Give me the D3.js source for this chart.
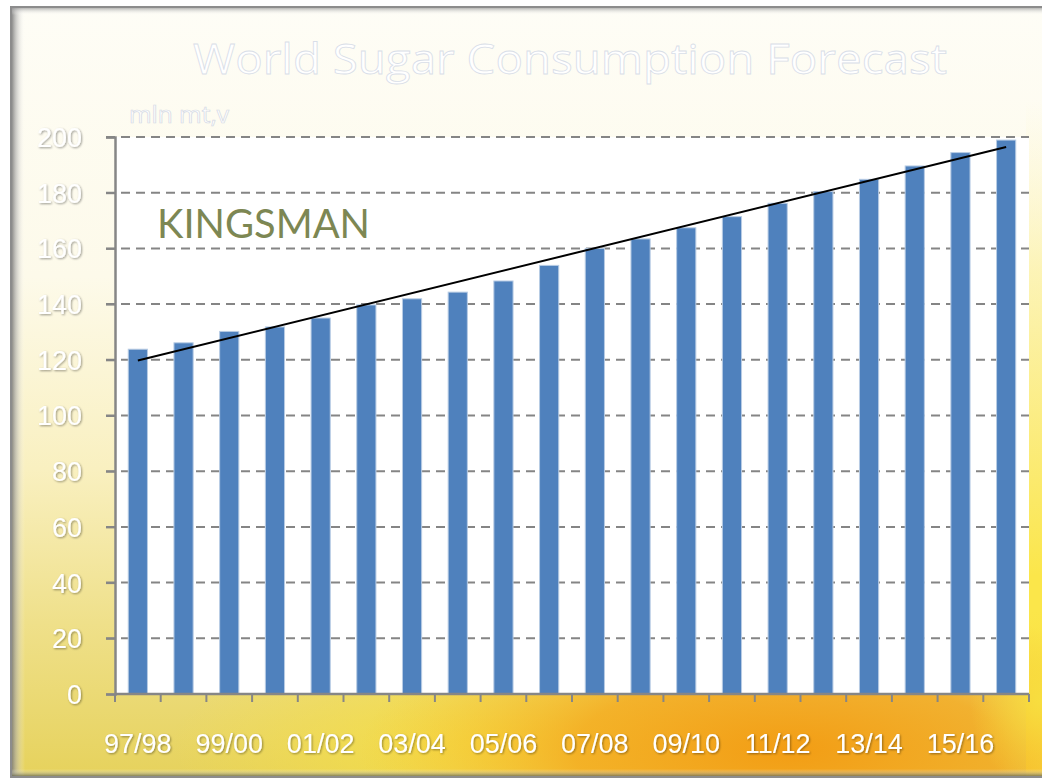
<!DOCTYPE html>
<html>
<head>
<meta charset="utf-8">
<script src="https://cdn.jsdelivr.net/npm/d3@7"></script>
<style>
  html, body { margin: 0; padding: 0; background: #ffffff; }
  svg { display: block; }
</style>
</head>
<body>
<svg id="chart" width="1042" height="778"></svg>
<script>
// ---- data ----
const categories = ["97/98","98/99","99/00","00/01","01/02","02/03","03/04","04/05","05/06","06/07",
                    "07/08","08/09","09/10","10/11","11/12","12/13","13/14","14/15","15/16","16/17"];
const consumption = [123.8, 126.1, 130.2, 131.8, 135.0, 139.7, 141.9, 144.3, 148.3, 153.9,
                     160.0, 163.4, 167.4, 171.4, 176.2, 180.4, 184.8, 189.6, 194.4, 198.9];
const yTicks = [0, 20, 40, 60, 80, 100, 120, 140, 160, 180, 200];
const xLabelCats = ["97/98","99/00","01/02","03/04","05/06","07/08","09/10","11/12","13/14","15/16"];
const titleText = "World Sugar Consumption Forecast";
const unitText = "mln mt,v";
const logoText = "KINGSMAN";

// ---- layout ----
const W = 1042, H = 778;
const plot = { left: 115, right: 1029, top: 137, bottom: 694 };

const svg = d3.select("#chart");
const defs = svg.append("defs");

// background gradients
const gBase = defs.append("linearGradient").attr("id", "bgBase")
  .attr("x1", 0).attr("y1", 0).attr("x2", 0).attr("y2", 1);
[[0, "#fefdf6"], [0.35, "#fdfaea"], [0.6, "#f9f0c0"], [0.8, "#efe08a"], [1, "#e6d25c"]]
  .forEach(([o, c]) => gBase.append("stop").attr("offset", o).attr("stop-color", c));

const gOrange = defs.append("radialGradient").attr("id", "bgOrange")
  .attr("cx", 0.5).attr("cy", 0.5).attr("r", 0.5);
[[0, "#f39a10", 0.95], [0.5, "#f4a41a", 0.75], [1, "#f6c030", 0]]
  .forEach(([o, c, a]) => gOrange.append("stop").attr("offset", o).attr("stop-color", c).attr("stop-opacity", a));

const gYellow = defs.append("radialGradient").attr("id", "bgYellow")
  .attr("cx", 0.5).attr("cy", 0.5).attr("r", 0.5);
[[0, "#f8e040", 0.9], [1, "#f8e040", 0]]
  .forEach(([o, c, a]) => gYellow.append("stop").attr("offset", o).attr("stop-color", c).attr("stop-opacity", a));

const gRight = defs.append("linearGradient").attr("id", "bgRight")
  .attr("x1", 0).attr("y1", 0).attr("x2", 0).attr("y2", 1);
[[0, "#fdf6c8", 0], [0.25, "#fcf1a0", 0.7], [0.7, "#fbe64a", 1], [1, "#fbe64a", 1]]
  .forEach(([o, c, a]) => gRight.append("stop").attr("offset", o).attr("stop-color", c).attr("stop-opacity", a));

const gLeftShadow = defs.append("linearGradient").attr("id", "leftShadow")
  .attr("x1", 0).attr("y1", 0).attr("x2", 1).attr("y2", 0);
[[0, "#6e6e6e", 0.9], [0.35, "#a8a8a8", 0.6], [1, "#ffffff", 0]]
  .forEach(([o, c, a]) => gLeftShadow.append("stop").attr("offset", o).attr("stop-color", c).attr("stop-opacity", a));
const gTopShadow = defs.append("linearGradient").attr("id", "topShadow")
  .attr("x1", 0).attr("y1", 0).attr("x2", 0).attr("y2", 1);
[[0, "#8a8a8a", 0.8], [1, "#ffffff", 0]]
  .forEach(([o, c, a]) => gTopShadow.append("stop").attr("offset", o).attr("stop-color", c).attr("stop-opacity", a));
const gBotShadow = defs.append("linearGradient").attr("id", "botShadow")
  .attr("x1", 0).attr("y1", 1).attr("x2", 0).attr("y2", 0);
[[0, "#5a5a3a", 0.9], [1, "#ffffff", 0]]
  .forEach(([o, c, a]) => gBotShadow.append("stop").attr("offset", o).attr("stop-color", c).attr("stop-opacity", a));

const txtShadow = defs.append("filter").attr("id", "txtShadow").attr("x", "-10%").attr("y", "-20%").attr("width", "120%").attr("height", "140%");
txtShadow.append("feGaussianBlur").attr("in", "SourceAlpha").attr("stdDeviation", 0.8).attr("result", "b");
txtShadow.append("feOffset").attr("in", "b").attr("dx", 0.5).attr("dy", 0.8).attr("result", "o");
txtShadow.append("feComponentTransfer").attr("in", "o").attr("result", "o2")
  .append("feFuncA").attr("type", "linear").attr("slope", 0.4);
const mrg = txtShadow.append("feMerge");
mrg.append("feMergeNode").attr("in", "o2");
mrg.append("feMergeNode").attr("in", "SourceGraphic");

// frame + background
const frame = { x: 11, y: 7, w: 1040, h: 770 };
const bg = svg.append("g");
bg.append("rect").attr("x", frame.x).attr("y", frame.y).attr("width", frame.w).attr("height", frame.h)
  .attr("fill", "url(#bgBase)");
bg.append("rect").attr("x", 1026).attr("y", 100).attr("width", 30).attr("height", 680)
  .attr("fill", "url(#bgRight)");
bg.append("ellipse").attr("cx", 500).attr("cy", 745).attr("rx", 330).attr("ry", 110)
  .attr("fill", "url(#bgYellow)");
bg.append("ellipse").attr("cx", 790).attr("cy", 750).attr("rx", 430).attr("ry", 150)
  .attr("fill", "url(#bgOrange)");
bg.append("ellipse").attr("cx", 1040).attr("cy", 700).attr("rx", 70).attr("ry", 90)
  .attr("fill", "url(#bgYellow)");
// frame shadows
bg.append("rect").attr("x", frame.x).attr("y", frame.y).attr("width", 14).attr("height", frame.h)
  .attr("fill", "url(#leftShadow)");
bg.append("rect").attr("x", frame.x).attr("y", frame.y).attr("width", frame.w).attr("height", 8)
  .attr("fill", "url(#topShadow)");
bg.append("rect").attr("x", frame.x).attr("y", frame.y + frame.h - 8).attr("width", frame.w).attr("height", 8)
  .attr("fill", "url(#botShadow)");
bg.append("rect").attr("x", frame.x).attr("y", frame.y).attr("width", frame.w).attr("height", frame.h)
  .attr("fill", "none").attr("stroke", "#8c8c8c").attr("stroke-width", 2);

// ---- scales ----
const x = d3.scaleBand().domain(categories).range([plot.left, plot.right])
  .paddingInner(0.58).paddingOuter(0.29);
const y = d3.scaleLinear().domain([0, 200]).range([plot.bottom, plot.top]);

// plot area
svg.append("rect").attr("x", plot.left).attr("y", plot.top)
  .attr("width", plot.right - plot.left).attr("height", plot.bottom - plot.top)
  .attr("fill", "#ffffff");

// gridlines
const grid = svg.append("g");
grid.selectAll("line").data(yTicks.filter(d => d > 0)).join("line")
  .attr("x1", plot.left - 9).attr("x2", plot.right)
  .attr("y1", d => y(d)).attr("y2", d => y(d))
  .attr("stroke", "#858585").attr("stroke-width", 2).attr("stroke-dasharray", "9,6");

// bars
svg.append("g").selectAll("rect").data(categories).join("rect")
  .attr("x", d => x(d))
  .attr("y", (d, i) => y(consumption[i]))
  .attr("width", x.bandwidth())
  .attr("height", (d, i) => y(0) - y(consumption[i]))
  .attr("fill", "#4f81bd")
  .attr("stroke", "#b8cce4").attr("stroke-width", 1);

// trendline (linear least squares over bars)
const n = consumption.length;
const mx = d3.mean(d3.range(n)), my = d3.mean(consumption);
const slope = d3.sum(d3.range(n), i => (i - mx) * (consumption[i] - my)) / d3.sum(d3.range(n), i => (i - mx) ** 2);
const icpt = my - slope * mx;
const trend = [0, n - 1].map(i => ({ cat: categories[i], v: icpt + slope * i }));
svg.append("path").datum(trend)
  .attr("d", d3.line().x(d => x(d.cat) + x.bandwidth() / 2).y(d => y(d.v)))
  .attr("fill", "none").attr("stroke", "#000000").attr("stroke-width", 2);

// y axis
const yAxis = svg.append("g").attr("transform", `translate(${plot.left},0)`)
  .call(d3.axisLeft(y).tickValues(yTicks).tickSize(9).tickPadding(24).tickFormat(d3.format("d")));
yAxis.select(".domain").attr("stroke", "#868686").attr("stroke-width", 2.5);
yAxis.selectAll(".tick line").attr("stroke", "#868686").attr("stroke-width", 2);
yAxis.selectAll(".tick text")
  .attr("fill", "#ffffff").attr("font-family", "'Liberation Sans', Arial, sans-serif")
  .attr("font-size", 27).attr("dy", "0.35em").attr("filter", "url(#txtShadow)");

// x axis: ticks at category boundaries
const boundaries = categories.map(c => x(c) - x.step() * x.paddingInner() / 2).concat([plot.right]);
const xAxisG = svg.append("g");
xAxisG.append("line").attr("x1", plot.left).attr("x2", plot.right)
  .attr("y1", plot.bottom).attr("y2", plot.bottom)
  .attr("stroke", "#868686").attr("stroke-width", 2.5);
xAxisG.selectAll("line.tk").data(boundaries).join("line").attr("class", "tk")
  .attr("x1", d => d).attr("x2", d => d)
  .attr("y1", plot.bottom).attr("y2", plot.bottom + 8)
  .attr("stroke", "#868686").attr("stroke-width", 2);
xAxisG.selectAll("text").data(xLabelCats).join("text")
  .attr("x", d => x(d) + x.bandwidth() / 2)
  .attr("y", 753)
  .attr("text-anchor", "middle")
  .attr("fill", "#ffffff").attr("font-family", "'Liberation Sans', Arial, sans-serif")
  .attr("font-size", 27).attr("filter", "url(#txtShadow)")
  .text(d => d);

// title
svg.append("text").attr("x", 570).attr("y", 74).attr("text-anchor", "middle")
  .attr("font-family", "'Open Sans', 'Noto Sans', sans-serif").attr("font-size", 42)
  .attr("fill", "#ffffff").attr("stroke", "#d9dee8").attr("stroke-width", 0.8)
  .attr("textLength", 754).attr("lengthAdjust", "spacingAndGlyphs")
  .text(titleText);

// unit label
svg.append("text").attr("x", 129).attr("y", 123)
  .attr("font-family", "'Open Sans', 'Noto Sans', sans-serif").attr("font-size", 23)
  .attr("fill", "#ffffff").attr("stroke", "#d4d9e4").attr("stroke-width", 0.7)
  .attr("textLength", 100).attr("lengthAdjust", "spacingAndGlyphs")
  .text(unitText);

// logo
svg.append("text").attr("x", 157).attr("y", 238)
  .attr("font-family", "Lato, 'Open Sans', sans-serif").attr("font-size", 40)
  .attr("fill", "#7d8753")
  .attr("textLength", 213).attr("lengthAdjust", "spacingAndGlyphs")
  .text(logoText);
</script>
</body>
</html>
